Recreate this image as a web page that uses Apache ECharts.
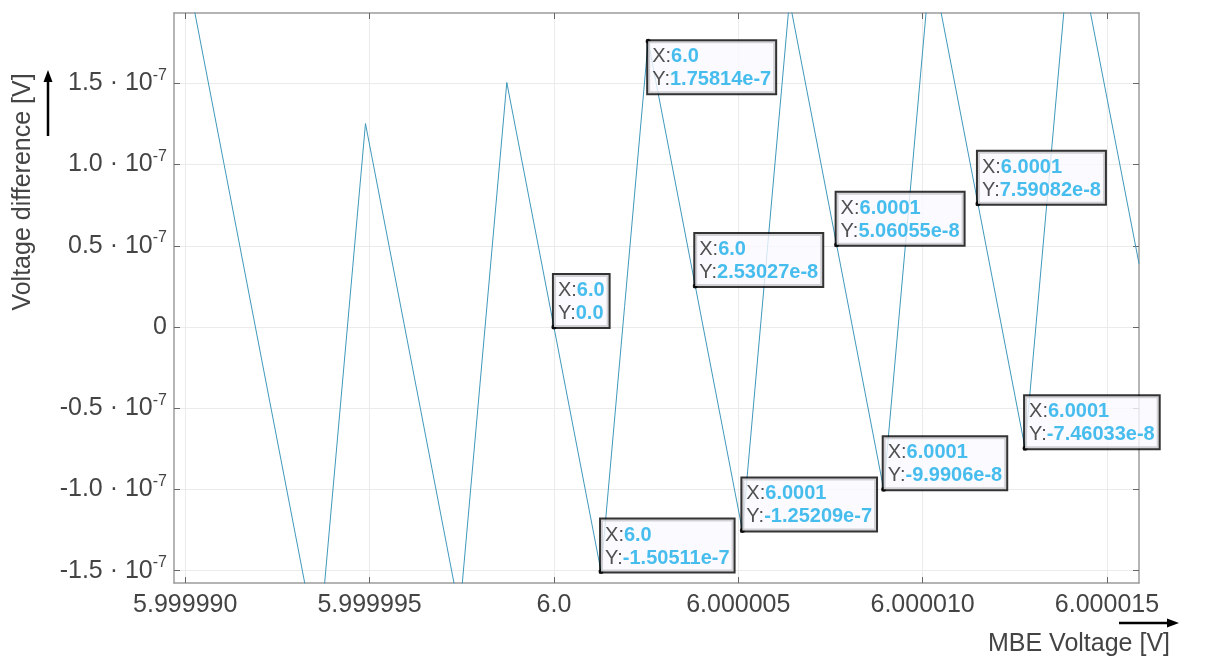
<!DOCTYPE html>
<html><head><meta charset="utf-8">
<script src="https://cdn.jsdelivr.net/npm/echarts@6/dist/echarts.min.js"></script>
<style>html,body{margin:0;padding:0;background:#fff}#c{width:1208px;height:657px}</style>
</head><body><div id="c"></div>
<script>
// MBE voltage [V] of each sample
const xValues = [
  5.999989778, 5.999991056, 5.999992333, 5.999993611, 5.999994889,
  5.999996167, 5.999997444, 5.999998722, 6.0, 6.000001278,
  6.000002556, 6.000003833, 6.000005111, 6.000006389, 6.000007667,
  6.000008944, 6.000010222, 6.0000115, 6.000012778, 6.000014056,
  6.000015868
];
// Voltage difference [V] of each sample
const yValues = [
  2.504e-7, 0.999e-7, -0.506e-7, -2.011e-7, 1.252e-7,
  -0.253e-7, -1.758e-7, 1.505e-7, 0.0, -1.50511e-7,
  1.75814e-7, 2.53027e-8, -1.25209e-7, 2.011e-7, 5.06055e-8,
  -9.9906e-8, 2.264e-7, 7.59082e-8, -7.46033e-8, 2.517e-7,
  0.39e-7
];
const xMin = 5.999989696, xMax = 6.000015868;
const yMin = -1.5758e-7, yMax = 1.9328e-7;
const xTickValues = [5.99999, 5.999995, 6.0, 6.000005, 6.00001, 6.000015];
const xTickLabels = ['5.999990', '5.999995', '6.0', '6.000005', '6.000010', '6.000015'];
const yTickValues = [-1.5e-7, -1.0e-7, -0.5e-7, 0, 0.5e-7, 1.0e-7, 1.5e-7];
const yTickMantissas = ['-1.5', '-1.0', '-0.5', '0', '0.5', '1.0', '1.5'];
const yTickExponent = '-7';
// data tips: sample index, shown X text, shown Y text
const tipIndices = [8, 9, 10, 11, 12, 14, 15, 17, 18];
const tipXLabels = ['6.0', '6.0', '6.0', '6.0', '6.0001', '6.0001', '6.0001', '6.0001', '6.0001'];
const tipYLabels = ['0.0', '-1.50511e-7', '1.75814e-7', '2.53027e-8', '-1.25209e-7', '5.06055e-8', '-9.9906e-8', '7.59082e-8', '-7.46033e-8'];

const FONT = 'Liberation Sans, Arial, sans-serif';
const TXT = '#444444';
const lineData = xValues.map((x, i) => [x, yValues[i]]);
const tipData = tipIndices.map((idx, j) => {
  const below = tipYLabels[j] === '1.75814e-7';
  return {
    value: [xValues[idx], yValues[idx]],
    label: { verticalAlign: below ? 'top' : 'bottom' }
  };
});
function nearestIdx(arr, v, eps) { return arr.findIndex(t => Math.abs(t - v) < eps); }

const chart = echarts.init(document.getElementById('c'), null, { renderer: 'canvas' });
const axisLineStyle = { color: '#9c9c9c', width: 1.5 };
chart.setOption({
  backgroundColor: '#ffffff',
  animation: false,
  grid: { left: 174, top: 13, right: 69, bottom: 74, containLabel: false },
  xAxis: [{
    type: 'value', min: xMin, max: xMax, position: 'bottom',
    axisLine: { show: true, onZero: false, lineStyle: axisLineStyle },
    axisTick: { show: true, inside: true, length: 6, customValues: xTickValues, lineStyle: { color: '#666' } },
    axisLabel: {
      customValues: xTickValues, fontSize: 25, color: TXT, fontFamily: FONT, margin: 10,
      formatter: v => xTickLabels[nearestIdx(xTickValues, v, 1e-9)]
    },
    splitLine: { show: true, customValues: xTickValues, lineStyle: { color: '#ebebeb', width: 1 } }
  }, {
    type: 'value', min: xMin, max: xMax, position: 'top',
    axisLine: { show: true, onZero: false, lineStyle: axisLineStyle },
    axisTick: { show: true, inside: true, length: 6, customValues: xTickValues, lineStyle: { color: '#666' } },
    axisLabel: { show: false }, splitLine: { show: false }
  }],
  yAxis: [{
    type: 'value', min: yMin, max: yMax, position: 'left',
    axisLine: { show: true, onZero: false, lineStyle: axisLineStyle },
    axisTick: { show: true, inside: true, length: 6, customValues: yTickValues, lineStyle: { color: '#666' } },
    axisLabel: {
      customValues: yTickValues, margin: 7, fontFamily: FONT, color: TXT,
      formatter: v => {
        const m = yTickMantissas[nearestIdx(yTickValues, v, 1e-12)];
        return m === '0' ? '{m|0}' : '{m|' + m + ' · 10}{s|' + yTickExponent + '}';
      },
      rich: {
        m: { fontSize: 25, color: TXT, fontFamily: FONT },
        s: { fontSize: 16, color: TXT, fontFamily: FONT, padding: [0, 0, 16, 0] }
      }
    },
    splitLine: { show: true, customValues: yTickValues, lineStyle: { color: '#ebebeb', width: 1 } }
  }, {
    type: 'value', min: yMin, max: yMax, position: 'right',
    axisLine: { show: true, onZero: false, lineStyle: axisLineStyle },
    axisTick: { show: true, inside: true, length: 6, customValues: yTickValues, lineStyle: { color: '#666' } },
    axisLabel: { show: false }, splitLine: { show: false }
  }],
  series: [{
    type: 'line', data: lineData, showSymbol: false, symbol: 'none',
    lineStyle: { color: '#3f98bb', width: 1 }, clip: true, z: 2
  }, {
    type: 'scatter', data: tipData, symbol: 'circle', symbolSize: 5,
    itemStyle: { color: '#000' }, z: 5, clip: false,
    label: {
      show: true, position: [2.5, 2.5], align: 'left',
      backgroundColor: '#f9f9ff', borderColor: '#000', borderWidth: 2,
      padding: [4, 4, 2, 4], lineHeight: 23,
      formatter: p => {
        const j = p.dataIndex;
        return '{k|X:}{v|' + tipXLabels[j] + '}\n{k|Y:}{v|' + tipYLabels[j] + '}';
      },
      rich: {
        k: { fontSize: 20, color: '#262626', fontFamily: FONT, lineHeight: 23 },
        v: { fontSize: 20, color: '#1aaeea', fontWeight: 'bold', fontFamily: FONT, lineHeight: 23 }
      }
    }
  }],
  graphic: [
    { type: 'text', x: 23, y: 192, rotation: Math.PI / 2,
      style: { text: 'Voltage difference [V]', font: '25px ' + FONT, fill: TXT, align: 'center', verticalAlign: 'middle' } },
    { type: 'line', shape: { x1: 48, y1: 136, x2: 48, y2: 80 }, style: { stroke: '#000', lineWidth: 2.5 } },
    { type: 'polygon', shape: { points: [[48, 70], [43.5, 82], [52.5, 82]] }, style: { fill: '#000' } },
    { type: 'text', x: 1079, y: 644,
      style: { text: 'MBE Voltage [V]', font: '25px ' + FONT, fill: TXT, align: 'center', verticalAlign: 'middle' } },
    { type: 'line', shape: { x1: 1119, y1: 623, x2: 1168, y2: 623 }, style: { stroke: '#000', lineWidth: 2.5 } },
    { type: 'polygon', shape: { points: [[1179, 623], [1167, 618.5], [1167, 627.5]] }, style: { fill: '#000' } }
  ]
});
</script></body></html>
